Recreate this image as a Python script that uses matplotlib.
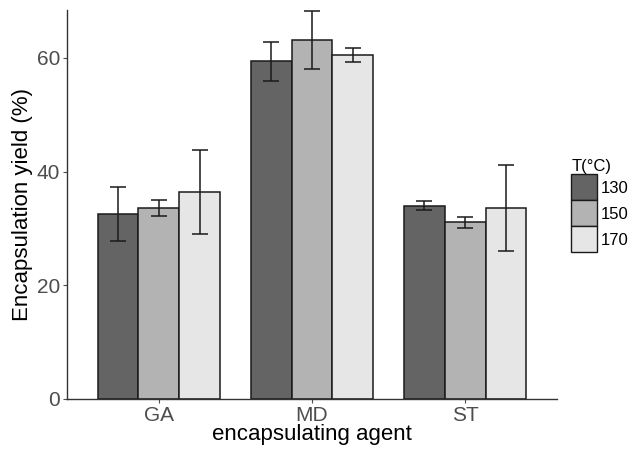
import numpy as np
import matplotlib.pyplot as plt
from matplotlib.patches import Patch

plt.rcParams['font.family'] = ['Liberation Sans', 'DejaVu Sans']

agents = ['GA', 'MD', 'ST']
temps = ['130', '150', '170']
yield_130 = [32.5, 59.4, 34.0]
yield_150 = [33.6, 63.2, 31.1]
yield_170 = [36.4, 60.5, 33.6]
err_130 = [4.7, 3.45, 0.85]
err_150 = [1.35, 5.1, 0.95]
err_170 = [7.45, 1.2, 7.55]

colors = ['#646464', '#b3b3b3', '#e6e6e6']
means = [yield_130, yield_150, yield_170]
errs = [err_130, err_150, err_170]

fig = plt.figure(figsize=(6.29, 4.49), dpi=100)
ax = fig.add_axes([67 / 629, 50 / 449, 490 / 629, 389 / 449])

x = np.arange(1, len(agents) + 1)
w = 0.8 / 3
for i in range(3):
    pos = x + (i - 1) * w
    ax.bar(pos, means[i], width=w, color=colors[i], edgecolor='#1a1a1a', linewidth=1.1, zorder=2)
    ax.errorbar(pos, means[i], yerr=errs[i], fmt='none', ecolor='#1a1a1a',
                elinewidth=1.1, capsize=5.6, capthick=1.1, zorder=3)

ax.set_xlim(0.4, 3.6)
ax.set_ylim(0, 68.4)
ax.set_xticks(x)
ax.set_xticklabels(agents)
ax.set_yticks([0, 20, 40, 60])
for s in ['top', 'right']:
    ax.spines[s].set_visible(False)
for s in ['left', 'bottom']:
    ax.spines[s].set_color('#333333')
    ax.spines[s].set_linewidth(1.0)
ax.tick_params(axis='both', colors='#4d4d4d', labelsize=15, length=3, width=0.8, pad=2)
ax.set_xlabel('encapsulating agent', fontsize=16, labelpad=-1)
ax.set_ylabel('Encapsulation yield (%)', fontsize=16, labelpad=3)

handles = [Patch(facecolor=c, edgecolor='#1a1a1a', linewidth=1.0) for c in colors]
leg = fig.legend(handles, temps, title='T(°C)', loc='upper left',
                 bbox_to_anchor=(568 / 629, 1 - 156 / 449), frameon=False,
                 fontsize=12, title_fontsize=12, handlelength=1.56, handleheight=2.02,
                 labelspacing=0.0, handletextpad=0.2, borderpad=0.2, borderaxespad=0)
leg._legend_box.align = 'left'

fig.savefig('out.png', dpi=100)
